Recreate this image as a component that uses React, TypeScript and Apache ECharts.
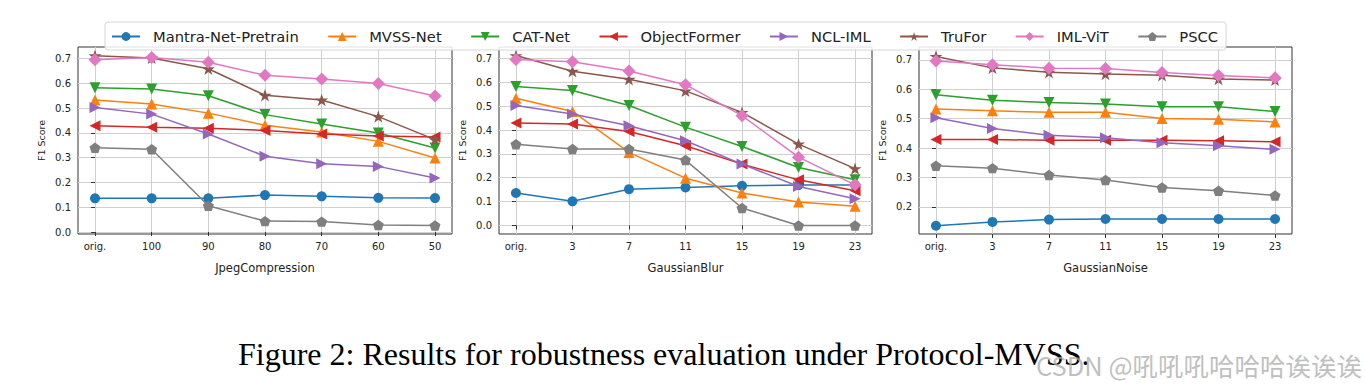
import React, { useEffect, useRef } from "react";
import * as echarts from "echarts";

const methods = ["Mantra-Net-Pretrain", "MVSS-Net", "CAT-Net", "ObjectFormer", "NCL-IML", "TruFor", "IML-ViT", "PSCC"];
const colors = ["#1f77b4", "#ff7f0e", "#2ca02c", "#d62728", "#9467bd", "#8c564b", "#e377c2", "#7f7f7f"];

const jpegCategories = ["orig.", "100", "90", "80", "70", "60", "50"];
const blurCategories = ["orig.", "3", "7", "11", "15", "19", "23"];
const noiseCategories = ["orig.", "3", "7", "11", "15", "19", "23"];

const jpegMantra = [0.136, 0.136, 0.136, 0.149, 0.144, 0.138, 0.137];
const jpegMVSS = [0.533, 0.517, 0.480, 0.431, 0.404, 0.366, 0.299];
const jpegCAT = [0.582, 0.577, 0.550, 0.474, 0.436, 0.400, 0.339];
const jpegObjectFormer = [0.429, 0.423, 0.419, 0.410, 0.396, 0.388, 0.384];
const jpegNCL = [0.503, 0.476, 0.396, 0.306, 0.276, 0.265, 0.218];
const jpegTruFor = [0.712, 0.703, 0.659, 0.552, 0.533, 0.466, 0.373];
const jpegIMLViT = [0.696, 0.705, 0.685, 0.633, 0.618, 0.600, 0.549];
const jpegPSCC = [0.340, 0.334, 0.106, 0.044, 0.042, 0.028, 0.026];

const blurMantra = [0.136, 0.101, 0.152, 0.159, 0.166, 0.169, 0.169];
const blurMVSS = [0.533, 0.478, 0.306, 0.198, 0.136, 0.098, 0.080];
const blurCAT = [0.582, 0.566, 0.503, 0.412, 0.331, 0.243, 0.191];
const blurObjectFormer = [0.429, 0.425, 0.394, 0.334, 0.257, 0.191, 0.145];
const blurNCL = [0.503, 0.467, 0.418, 0.355, 0.257, 0.163, 0.112];
const blurTruFor = [0.712, 0.646, 0.613, 0.564, 0.474, 0.341, 0.238];
const blurIMLViT = [0.696, 0.686, 0.647, 0.590, 0.460, 0.286, 0.170];
const blurPSCC = [0.340, 0.320, 0.320, 0.274, 0.073, 0.0, 0.0];

const noiseMantra = [0.136, 0.149, 0.157, 0.159, 0.159, 0.159, 0.159];
const noiseMVSS = [0.533, 0.527, 0.522, 0.522, 0.501, 0.498, 0.489];
const noiseCAT = [0.582, 0.563, 0.555, 0.550, 0.541, 0.541, 0.525];
const noiseObjectFormer = [0.429, 0.429, 0.427, 0.427, 0.427, 0.425, 0.422];
const noiseNCL = [0.503, 0.467, 0.444, 0.435, 0.418, 0.408, 0.396];
const noiseTruFor = [0.712, 0.673, 0.658, 0.652, 0.648, 0.635, 0.632];
const noiseIMLViT = [0.696, 0.684, 0.672, 0.671, 0.657, 0.647, 0.639];
const noisePSCC = [0.340, 0.332, 0.309, 0.292, 0.266, 0.255, 0.239];

const jpegSeries = [jpegMantra, jpegMVSS, jpegCAT, jpegObjectFormer, jpegNCL, jpegTruFor, jpegIMLViT, jpegPSCC];
const blurSeries = [blurMantra, blurMVSS, blurCAT, blurObjectFormer, blurNCL, blurTruFor, blurIMLViT, blurPSCC];
const noiseSeries = [noiseMantra, noiseMVSS, noiseCAT, noiseObjectFormer, noiseNCL, noiseTruFor, noiseIMLViT, noisePSCC];

const yTicksFull = [0, 0.1, 0.2, 0.3, 0.4, 0.5, 0.6, 0.7];
const yTicksNoise = [0.2, 0.3, 0.4, 0.5, 0.6, 0.7];
const xTickIdx = [0, 1, 2, 3, 4, 5, 6];

const STAR =
  "path://M0,-1 L0.2245,-0.309 L0.9511,-0.309 L0.3633,0.118 L0.5878,0.809 L0,0.382 L-0.5878,0.809 L-0.3633,0.118 L-0.9511,-0.309 L-0.2245,-0.309 Z";
const PENT = "path://M0,-1 L0.9511,-0.309 L0.5878,0.809 L-0.5878,0.809 L-0.9511,-0.309 Z";

const symbols = ["circle", "triangle", "triangle", "triangle", "triangle", STAR, "diamond", PENT];
const symbolRotates = [0, 0, 180, 90, -90, 0, 0, 0];
const symbolSizes = [10, 11, 11, 11, 11, 13, 13, 11];

const FONT = "DejaVu Sans";

export default function App() {
  const ref = useRef<HTMLDivElement>(null);
  useEffect(() => {
    if (!ref.current) return;
    const chart = echarts.init(ref.current, undefined, { renderer: "svg" });

    const panels = [
      { cats: jpegCategories, data: jpegSeries, left: 78, width: 374, min: -0.008, max: 0.747, ticks: yTicksFull, name: "JpegCompression" },
      { cats: blurCategories, data: blurSeries, left: 499, width: 373, min: -0.036, max: 0.748, ticks: yTicksFull, name: "GaussianBlur" },
      { cats: noiseCategories, data: noiseSeries, left: 919, width: 373, min: 0.108, max: 0.744, ticks: yTicksNoise, name: "GaussianNoise" },
    ];

    const grid = panels.map((p) => ({
      left: p.left,
      width: p.width,
      top: 47,
      height: 187,
      show: true,
      borderColor: "#333",
      borderWidth: 1,
      backgroundColor: "transparent",
    }));

    const xAxis = panels.map((p, i) => ({
      type: "value",
      gridIndex: i,
      min: -0.3,
      max: 6.3,
      name: p.name,
      nameLocation: "middle",
      nameGap: 28,
      nameTextStyle: { fontSize: 11.5, color: "#222", fontFamily: FONT },
      axisLine: { show: false },
      axisTick: { show: true, length: 4, customValues: xTickIdx, lineStyle: { color: "#333" } },
      axisLabel: {
        customValues: xTickIdx,
        margin: 7,
        fontSize: 10,
        color: "#222",
        fontFamily: FONT,
        formatter: (v: number) => p.cats[Math.round(v)] ?? "",
      },
      splitLine: { show: true, lineStyle: { color: "#d0d0d0", width: 1 } },
    }));

    const yAxis = panels.map((p, i) => ({
      type: "value",
      gridIndex: i,
      min: p.min,
      max: p.max,
      name: "F1 Score",
      nameLocation: "middle",
      nameGap: 32,
      nameTextStyle: { fontSize: 9.5, color: "#222", fontFamily: FONT },
      axisLine: { show: false },
      axisTick: { show: true, length: 4, customValues: p.ticks, lineStyle: { color: "#333" } },
      axisLabel: {
        customValues: p.ticks,
        margin: 7,
        fontSize: 10,
        color: "#222",
        fontFamily: FONT,
        formatter: (v: number) => v.toFixed(1),
      },
      splitLine: { show: true, lineStyle: { color: "#d0d0d0", width: 1 } },
    }));

    const series: any[] = [];
    panels.forEach((p, pi) => {
      p.data.forEach((vals, mi) => {
        series.push({
          type: "line",
          name: methods[mi],
          xAxisIndex: pi,
          yAxisIndex: pi,
          data: vals.map((v, k) => [k, v]),
          symbol: symbols[mi],
          symbolRotate: symbolRotates[mi],
          symbolSize: symbolSizes[mi],
          symbolKeepAspect: true,
          showAllSymbol: true,
          color: colors[mi],
          lineStyle: { width: 1.5, color: colors[mi] },
          itemStyle: { color: colors[mi], borderWidth: 0 },
          emphasis: { disabled: true },
          z: 2 + mi * 0.01,
        });
      });
    });

    chart.setOption({
      animation: false,
      textStyle: { fontFamily: FONT },
      grid,
      xAxis,
      yAxis,
      legend: {
        data: methods,
        left: 105,
        top: 22,
        orient: "horizontal",
        itemGap: 28.5,
        itemWidth: 28,
        itemHeight: 11,
        padding: [7, 8, 6, 6],
        borderColor: "#d6d6d6",
        borderWidth: 1,
        borderRadius: 3,
        backgroundColor: "rgba(255,255,255,0.85)",
        textStyle: { fontSize: 14.7, color: "#222", fontFamily: FONT, padding: [0, 0, 0, 8] },
        selectedMode: false,
        z: 10,
      },
      graphic: [
        {
          type: "text",
          left: 238,
          top: 338,
          style: {
            text: "Figure 2: Results for robustness evaluation under Protocol-MVSS.",
            font: '32px "Liberation Serif"',
            fill: "#000",
          },
        },
        {
          type: "text",
          left: 1036,
          top: 352,
          style: {
            text: "CSDN @吼吼吼哈哈哈诶诶诶",
            font: '25.5px "Noto Sans CJK SC"',
            fill: "rgba(170,170,170,0.75)",
          },
        },
      ],
      series,
    });
    return () => chart.dispose();
  }, []);
  return <div ref={ref} style={{ position: "fixed", left: 0, top: 0, width: 1365, height: 391, background: "#fff" }} />;
}
